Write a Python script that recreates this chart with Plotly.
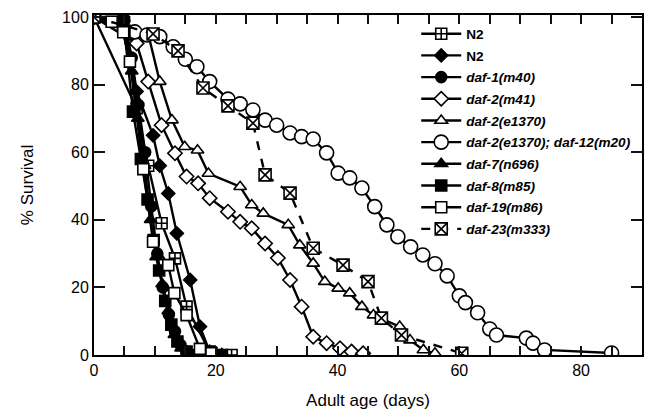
import plotly.graph_objects as go

# ---- data (days, % survival) ----
n2_box_x = [0, 7, 8.9, 11.1, 13.3, 15.2, 19, 22.6]
n2_box_y = [100, 73, 56, 39, 28.6, 14.3, 1, 0]

n2_dia_x = [0, 4.8, 7, 9.7, 10.8, 12.2, 13.6, 15.8, 17.4, 19, 21]
n2_dia_y = [100, 100, 78, 65, 56, 47.8, 36, 22.2, 8.4, 1, 0]

daf1_x = [0, 5, 6.2, 7.3, 8.4, 9.4, 10.4, 11.3, 12.3, 13.3, 14.2, 15.2, 16.2]
daf1_y = [100, 99, 88, 74, 60, 44, 30, 20, 12, 7, 3, 1, 0]

daf7_x = [0, 4.5, 6.2, 7.2, 8.3, 9.3, 10.2, 11.2, 12.2, 13.2, 14.3, 16.9]
daf7_y = [100, 98, 84, 70, 56, 40, 29, 21, 13, 6, 2, 0.5]

daf8_x = [0, 5, 6.4, 7.7, 8.8, 9.8, 10.7, 11.7, 12.7, 13.7, 15.2, 19, 21]
daf8_y = [100, 96, 72, 58, 46, 34, 25, 16, 9, 4, 1, 0.5, 0]

daf2m41_x = [0, 7, 8.9, 11.1, 13.3, 15.2, 17.1, 19, 22, 24, 25.9, 28.1, 30.2, 32.2, 34.1, 36, 38.2, 40.4, 42.3, 44.2]
daf2m41_y = [100, 92.2, 80.9, 68, 59.7, 52.8, 50.8, 46.4, 42.4, 39.4, 37.5, 33, 28.7, 22.2, 14.3, 5.4, 3.5, 2, 1, 0.5]

daf2e_x = [0, 8.9, 10.8, 12.8, 14.9, 17, 18.8, 24, 25.9, 27.8, 31.9, 33.8, 36, 37.9, 40.1, 42, 44, 45.9, 50.2, 51.9, 54.1, 56]
daf2e_y = [100, 95, 80.9, 69.5, 61.6, 60.6, 53.7, 49.8, 44.4, 41.9, 38.5, 32.5, 27.1, 21.7, 19.7, 18.3, 14.3, 11.8, 8.4, 4.4, 1.5, 0.5]

daf2daf12_x = [0, 6.7, 8.7, 10.8, 13, 15, 16.9, 19, 22, 24, 26.1, 28.1, 30, 32.2, 34.1, 36, 38.2, 40.1, 42, 44, 46.1, 48.1, 49.9, 52, 54, 56, 58, 60, 61, 63, 65, 66.1, 71, 72.1, 74, 85]
daf2daf12_y = [100, 95.6, 94.7, 94.2, 91.2, 87.5, 85.3, 80.9, 75.7, 74.3, 72.5, 69.5, 68, 65.7, 64.6, 63.9, 59.8, 53.8, 52.4, 49.4, 43.9, 38.5, 35, 32, 29.6, 27, 23.4, 17.5, 15.5, 12.5, 7.7, 5.9, 5, 3.5, 1.5, 0.6]

daf19_x = [0, 2.9, 4.8, 5.9, 8.1, 9.7, 12.2, 13.2, 15.2, 17.4, 19.3]
daf19_y = [100, 98.6, 95.5, 86.8, 55, 33.5, 26.6, 18.3, 11.8, 1.8, 0.5]

daf23_x = [0, 9.7, 13.8, 17.9, 22, 26.1, 28.1, 32.2, 36, 40.9, 45, 47.2, 50.5, 60.4]
daf23_y = [100, 95, 90, 79, 73.7, 68.6, 53.3, 47.9, 31.6, 26.6, 21.7, 10.9, 5.9, 0.5]

names = ["<b>N2</b>", "<b>N2</b>", "<b><i>daf-1(m40)</i></b>", "<b><i>daf-2(m41)</i></b>",
         "<b><i>daf-2(e1370)</i></b>", "<b><i>daf-2(e1370); daf-12(m20)</i></b>",
         "<b><i>daf-7(n696)</i></b>", "<b><i>daf-8(m85)</i></b>", "<b><i>daf-19(m86)</i></b>",
         "<b><i>daf-23(m333)</i></b>"]

series = [
    (n2_box_x, n2_box_y, "square-cross", "white", 11, "solid"),
    (n2_dia_x, n2_dia_y, "diamond", "black", 10, "solid"),
    (daf1_x, daf1_y, "circle", "black", 11, "solid"),
    (daf2m41_x, daf2m41_y, "diamond", "white", 11, "solid"),
    (daf2e_x, daf2e_y, "triangle-up", "white", 11, "solid"),
    (daf2daf12_x, daf2daf12_y, "circle", "white", 14, "solid"),
    (daf7_x, daf7_y, "triangle-up", "black", 11, "solid"),
    (daf8_x, daf8_y, "square", "black", 11, "solid"),
    (daf19_x, daf19_y, "square", "white", 11, "solid"),
    (daf23_x, daf23_y, "square-x", "white", 12, "dash"),
]

fig = go.Figure()
for i, (xs, ys, sym, fill, size, dash) in enumerate(series):
    fig.add_trace(go.Scatter(
        x=xs, y=ys, mode="lines+markers", name=names[i], legendgroup=f"g{i}",
        line=dict(color="black", width=2.4, dash=dash),
        marker=dict(symbol=sym, color=fill, size=size, line=dict(color="black", width=1.6)),
    ))

font_family = "Liberation Sans, Arial, Helvetica, sans-serif"
TICK = "#111111"

fig.update_layout(
    template="none",
    width=649, height=417,
    margin=dict(l=94, r=7, t=15, b=62),
    paper_bgcolor="white", plot_bgcolor="white",
    xaxis=dict(range=[0, 90], dtick=20,
               ticks="inside", ticklen=9, tickwidth=2, tickcolor=TICK,
               showline=True, linewidth=2, linecolor="black", mirror="allticks",
               showgrid=False, zeroline=False,
               tickfont=dict(family=font_family, size=16, color="black"),
               minor=dict(dtick=5, ticks="inside", ticklen=9, tickwidth=2, tickcolor=TICK),
               title=dict(text="Adult age (days)", font=dict(family=font_family, size=17, color="black"), standoff=16)),
    yaxis=dict(range=[0, 100.6], dtick=20,
               ticks="inside", ticklen=11, tickwidth=2, tickcolor=TICK,
               showline=True, linewidth=2, linecolor="black", mirror="allticks",
               showgrid=False, zeroline=False,
               tickfont=dict(family=font_family, size=16, color="black"),
               title=dict(text="% Survival", font=dict(family=font_family, size=17, color="black"), standoff=24)),
    showlegend=True,
    legend=dict(x=0.588, y=0.99, xanchor="left", yanchor="top", bgcolor="rgba(0,0,0,0)",
                font=dict(family=font_family, size=13.6, color="black"),
                tracegroupgap=1, itemwidth=40),
)

fig.write_html("out.html")
